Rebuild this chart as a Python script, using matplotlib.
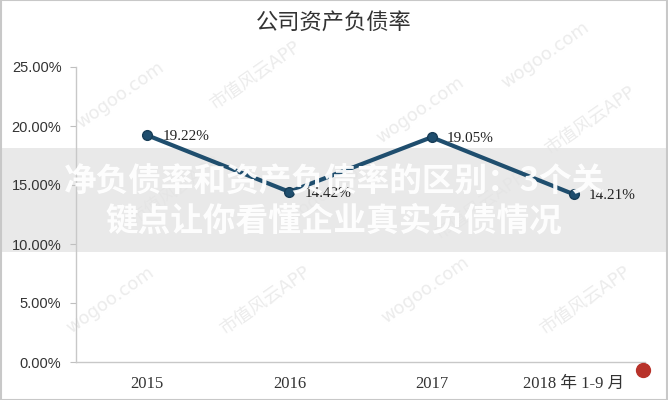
import matplotlib
matplotlib.use("Agg")
import matplotlib.pyplot as plt
from matplotlib.patches import Rectangle
from matplotlib.lines import Line2D

categories = ["2015", "2016", "2017", "2018 年 1-9 月"]
debt_ratio = [19.22, 14.42, 19.05, 14.21]
point_labels = ["19.22%", "14.42%", "19.05%", "14.21%"]
yticks = [0, 5, 10, 15, 20, 25]
ytick_labels = ["0.00%", "5.00%", "10.00%", "15.00%", "20.00%", "25.00%"]
title = "公司资产负债率"
banner_lines = ["净负债率和资产负债率的区别：3个关", "键点让你看懂企业真实负债情况"]

W, H = 668, 400
fig = plt.figure(figsize=(W / 100, H / 100), dpi=100)
fig.patch.set_facecolor("white")

def fx(x):
    return x / W

def fy(y):
    return 1 - y / H

# watermarks (behind everything)
wm = [
    ("wogoo.com", 120, 95), ("市值风云APP", 255, 75),
    ("wogoo.com", 420, 110), ("wogoo.com", 545, 55), ("市值风云APP", 590, 120),
    ("市值风云APP", 175, 190), ("wogoo.com", 330, 190),
    ("市值风云APP", 480, 205), ("wogoo.com", 110, 300),
    ("市值风云APP", 265, 300), ("wogoo.com", 425, 290), ("市值风云APP", 585, 300),
]
for txt, x, y in wm:
    fig.text(fx(x), fy(y), txt, rotation=35, ha="center", va="center",
             fontsize=13, color="#ececec", zorder=0,
             family=["DejaVu Sans", "Noto Sans CJK SC"])

ax = fig.add_axes([fx(76), fy(362), fx(645) - fx(76), fy(67) - fy(362)])
ax.set_zorder(2)
ax.patch.set_alpha(0)
x = list(range(len(categories)))
ax.plot(x, debt_ratio, color="#1f4e6e", lw=3.0, marker="o", markersize=7,
        markerfacecolor="#1f4e6e", markeredgecolor="#173d57", zorder=3,
        solid_capstyle="round")
for xi, v, lab in zip(x, debt_ratio, point_labels):
    ax.annotate(lab, (xi, v), xytext=(11, -1), textcoords="offset points",
                ha="left", va="center", fontsize=11, color="#222222",
                family="Liberation Serif")

ax.set_xlim(-0.5, len(categories) - 0.5)
ax.set_ylim(0, 25)
ax.set_yticks(yticks)
ax.set_yticklabels(ytick_labels, family="Liberation Sans", fontsize=10.5, color="#333333")
ax.set_xticks(x)
ax.set_xticklabels(categories, family=["Liberation Serif", "Noto Sans CJK SC"],
                   fontsize=12, color="#333333")
ax.tick_params(axis="y", direction="out", length=4.5, width=0.8, color="#bfbfbf", pad=6)
ax.tick_params(axis="x", length=0, pad=10)
for s in ["top", "right"]:
    ax.spines[s].set_visible(False)
for s in ["left", "bottom"]:
    ax.spines[s].set_color("#c8c8c8")
    ax.spines[s].set_linewidth(1.0)

fig.text(fx(334), fy(22), title, ha="center", va="center", fontsize=16,
         color="#333333", family="Noto Sans CJK SC")

# overlay banner (band under the chart line, text above it)
fig.patches.append(Rectangle((0, fy(252)), 1, fy(148) - fy(252), transform=fig.transFigure,
                             facecolor="#e4e4e4", alpha=0.8, edgecolor="none", zorder=1))
for line, yy in zip(banner_lines, [182, 221]):
    fig.text(fx(334), fy(yy), line, ha="center", va="center", fontsize=23.5,
             fontweight="bold", color="white", alpha=0.95, family="Noto Sans CJK SC",
             zorder=5)

# seal
fig.add_artist(Line2D([fx(643)], [fy(370)], transform=fig.transFigure, marker="o",
                      markersize=10, color="#b8322a", linestyle="none", zorder=6))

# border
fig.patches.append(Rectangle((0.001, 0.001), 0.998, 0.998, transform=fig.transFigure,
                             facecolor="none", edgecolor="#c8c8c8", lw=1.5, zorder=7))

fig.savefig("out.png", dpi=100)
